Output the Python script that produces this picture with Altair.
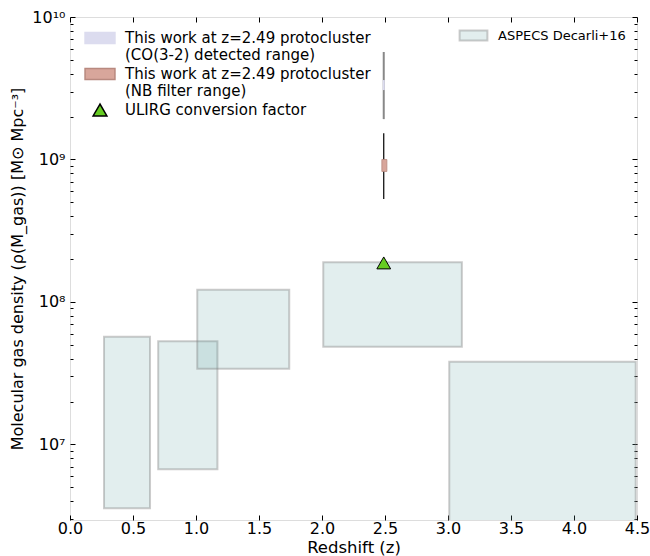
import altair as alt
import pandas as pd

# ---------------- data ----------------
aspecs_z_lo = [0.27, 0.70, 1.01, 2.01, 3.01]
aspecs_z_hi = [0.635, 1.17, 1.74, 3.11, 4.49]
aspecs_rho_lo = [3.56e6, 6.7e6, 3.4e7, 4.85e7, 1.5e6]
aspecs_rho_hi = [5.7e7, 5.3e7, 1.22e8, 1.9e8, 3.8e7]

co_z = [2.49]
co_rho_lo = [1.92e9]
co_rho_hi = [5.68e9]
co_core_lo = [3.07e9]
co_core_hi = [3.61e9]

nb_z = [2.49]
nb_rho_lo = [5.28e8]
nb_rho_hi = [1.53e9]
nb_box_zlo = [2.475]
nb_box_zhi = [2.515]
nb_box_lo = [8.24e8]
nb_box_hi = [1.0e9]

ulirg_z = [2.49]
ulirg_rho = [1.88e8]

series = [
    "This work at z=2.49 protocluster|(CO(3-2) detected range)",
    "This work at z=2.49 protocluster|(NB filter range)",
    "ULIRG conversion factor",
]
series_fill = ["#dcdcef", "#d8a69b", "#66cc22"]
series_stroke = ["#dcdcef", "#b8897f", "#000000"]
series_shape = ["M-2.17,-0.8H2.17V0.8H-2.17Z", "M-2.17,-0.8H2.17V0.8H-2.17Z", "triangle-up"]

aspecs_name = ["ASPECS Decarli+16"]

x_ticks = [0.0, 0.5, 1.0, 1.5, 2.0, 2.5, 3.0, 3.5, 4.0, 4.5]
y_major = [1e7, 1e8, 1e9, 1e10]
y_minor = [k * 10 ** d for d in range(6, 10) for k in range(2, 10) if k * 10 ** d >= 3e6]

FONT = "DejaVu Sans"
X_TITLE = "Redshift (z)"
Y_TITLE = "Molecular gas density (ρ(M_gas)) [M⊙ Mpc⁻³]"

xscale = alt.Scale(domain=[0, 4.5], nice=False, zero=False)
yscale = alt.Scale(type="log", domain=[2.95e6, 1e10], nice=False)

e = "round(log(datum.value)/LN10)"
ylab = (f"{e} == 6 ? '10⁶' : {e} == 7 ? '10⁷' : {e} == 8 ? '10⁸' : "
        f"{e} == 9 ? '10⁹' : '10¹⁰'")

common = dict(grid=False, domain=False, tickColor="black", labelColor="black",
              titleColor="black", titleFontWeight="normal", labelFont=FONT, titleFont=FONT)

x_bottom = alt.Axis(orient="bottom", values=x_ticks, format=".1f", labelFontSize=16,
                    titleFontSize=16.5, tickSize=5, offset=-5, labelPadding=0,
                    titlePadding=3, labelFlush=False, title=X_TITLE, **common)
x_top = alt.Axis(orient="top", values=x_ticks, labels=False, tickSize=5, offset=-5,
                 title=None, **common)
y_left = alt.Axis(orient="left", values=y_major, labelExpr=ylab, labelFontSize=16,
                  titleFontSize=16, tickSize=5, offset=-5, labelPadding=5,
                  titlePadding=6, labelFlush=False, title=Y_TITLE, **common)
y_right = alt.Axis(orient="right", values=y_major, labels=False, tickSize=5, offset=-5,
                   title=None, **common)
y_left_minor = alt.Axis(orient="left", values=y_minor, labels=False, tickSize=3, offset=-3,
                        title=None, **common)
y_right_minor = alt.Axis(orient="right", values=y_minor, labels=False, tickSize=3, offset=-3,
                         title=None, **common)


def X(field, axis=None):
    return alt.X(field, type="quantitative", scale=xscale, axis=axis)


def Y(field, axis=None):
    return alt.Y(field, type="quantitative", scale=yscale, axis=axis)


aspecs_df = pd.DataFrame({
    "z_lo": aspecs_z_lo, "z_hi": aspecs_z_hi,
    "rho_lo": aspecs_rho_lo, "rho_hi": aspecs_rho_hi,
    "survey": aspecs_name * len(aspecs_z_lo),
})

aspecs = alt.Chart(aspecs_df).mark_rect(
    stroke="rgba(128,128,128,0.4)", strokeWidth=2, clip=True
).encode(
    x=X("z_lo", x_bottom), x2="z_hi", y=Y("rho_lo", y_left), y2="rho_hi",
    fill=alt.Fill("survey:N",
                  scale=alt.Scale(domain=aspecs_name, range=["rgba(95,158,160,0.18)"]),
                  legend=alt.Legend(title=None, orient="none", legendX=397, legendY=12,
                                    labelFont=FONT, labelFontSize=13, labelColor="black",
                                    symbolType="M-4.4,-1.6H4.4V1.6H-4.4Z", symbolSize=40,
                                    symbolStrokeColor="rgba(128,128,128,0.4)",
                                    symbolStrokeWidth=2, labelOffset=18, padding=0)),
)

co_df = pd.DataFrame({"z": co_z, "lo": co_rho_lo, "hi": co_rho_hi,
                      "clo": co_core_lo, "chi": co_core_hi})
co_rule = alt.Chart(co_df).mark_rule(color="#888888", strokeWidth=2).encode(
    x=X("z", x_top), y=Y("lo", y_right), y2="hi")
co_core = alt.Chart(co_df).mark_rule(color="#dcdcef", strokeWidth=2).encode(
    x=X("z"), y=Y("clo", y_left_minor), y2="chi")

nb_df = pd.DataFrame({"z": nb_z, "lo": nb_rho_lo, "hi": nb_rho_hi,
                      "zlo": nb_box_zlo, "zhi": nb_box_zhi, "blo": nb_box_lo, "bhi": nb_box_hi})
nb_rule = alt.Chart(nb_df).mark_rule(color="black", strokeWidth=1.2).encode(
    x=X("z"), y=Y("lo", y_right_minor), y2="hi")
nb_box = alt.Chart(nb_df).mark_rect(fill="#d8a69b", stroke="#b8897f", strokeWidth=0.8).encode(
    x=X("zlo"), x2="zhi", y=Y("blo"), y2="bhi")

series_legend = alt.Legend(title=None, orient="none", legendX=22, legendY=13,
                           labelExpr="split(datum.label, '|')", labelFont=FONT,
                           labelFontSize=15, labelColor="black", labelLimit=0,
                           labelOffset=17, rowPadding=2, padding=0, symbolSize=190)

ulirg_df = pd.DataFrame({"z": ulirg_z, "rho": ulirg_rho, "series": [series[2]]})
ulirg = alt.Chart(ulirg_df).mark_point(filled=True, size=190, strokeWidth=1, opacity=1).encode(
    x=X("z"), y=Y("rho"),
    color=alt.Color("series:N", scale=alt.Scale(domain=series, range=series_fill), legend=series_legend),
    shape=alt.Shape("series:N", scale=alt.Scale(domain=series, range=series_shape), legend=series_legend),
    stroke=alt.Stroke("series:N", scale=alt.Scale(domain=series, range=series_stroke), legend=series_legend),
)

chart = alt.layer(aspecs, co_rule, co_core, nb_rule, nb_box, ulirg).resolve_axis(
    x="independent", y="independent"
).properties(
    width=567, height=503,
    autosize=alt.AutoSizeParams(type="none"),
    padding={"left": 70, "top": 17, "right": 13, "bottom": 36},
).configure_view(stroke="black", strokeWidth=1).configure(font=FONT, background="white")

chart.save("out.html", embed_options={"renderer": "svg", "actions": False})
